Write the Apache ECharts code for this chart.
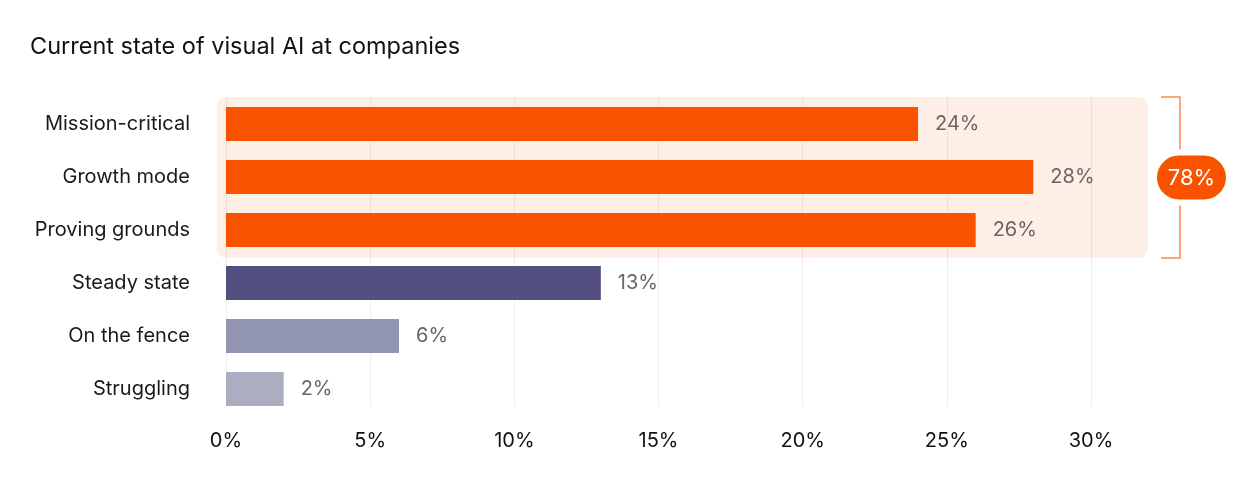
<!DOCTYPE html>
<html>
<head>
<meta charset="utf-8">
<script src="https://cdn.jsdelivr.net/npm/echarts@6/dist/echarts.min.js"></script>
<style>
  html, body { margin: 0; padding: 0; background: #fff; }
  #chart { width: 1256px; height: 483px; }
</style>
</head>
<body>
<div id="chart"></div>
<script>
// chart data
const categories = ['Mission-critical', 'Growth mode', 'Proving grounds', 'Steady state', 'On the fence', 'Struggling']
const shares = [24, 28, 26, 13, 6, 2]
const barColors = ['#f95300', '#f95300', '#f95300', '#534f81', '#9295b2', '#aaaec0']
const xTicks = [0, 5, 10, 15, 20, 25, 30]
const highlightCount = 3 // first three bars are grouped

const fontFamily = 'Inter, "Noto Sans", sans-serif'
const xMin = xTicks[0]
const xMax = xTicks[xTicks.length - 1]
const xStep = xTicks[1] - xTicks[0]

const chart = echarts.init(document.getElementById('chart'))

chart.setOption({
  animation: false,
  title: {
    text: 'Current state of visual AI at companies',
    left: 25,
    top: 30,
    textStyle: { fontFamily, fontSize: 23.5, fontWeight: 'normal', color: '#111' }
  },
  grid: [
    { left: 226, right: 165, top: 97.5, height: 318 },
    // second grid only carries the shorter split lines
    { left: 226, right: 165, top: 97, height: 310 }
  ],
  xAxis: [
    {
      gridIndex: 0,
      type: 'value',
      min: xMin,
      max: xMax,
      interval: xStep,
      axisLine: { show: false },
      axisTick: { show: false },
      splitLine: { show: false },
      axisLabel: {
        formatter: '{value}%',
        margin: 15,
        fontFamily,
        fontSize: 20,
        color: '#111'
      }
    },
    {
      gridIndex: 1,
      type: 'value',
      min: xMin,
      max: xMax,
      interval: xStep,
      axisLine: { show: false },
      axisTick: { show: false },
      axisLabel: { show: false },
      splitLine: { show: true, lineStyle: { color: 'rgba(90,40,20,0.08)', width: 1 } }
    }
  ],
  yAxis: [
    {
      gridIndex: 0,
      type: 'category',
      inverse: true,
      data: categories,
      axisLine: { show: false },
      axisTick: { show: false },
      axisLabel: {
        margin: 36,
        fontFamily,
        fontSize: 20,
        color: '#1a1a1a'
      }
    },
    { gridIndex: 1, type: 'value', show: false }
  ],
  series: [{
    type: 'bar',
    xAxisIndex: 0,
    yAxisIndex: 0,
    barWidth: 34,
    data: shares.map((v, i) => ({ value: v, itemStyle: { color: barColors[i] } })),
    label: {
      show: true,
      position: 'right',
      distance: 17,
      formatter: '{c}%',
      fontFamily,
      fontSize: 20,
      color: '#6b6462'
    }
  }]
})

// highlight box, bracket and total pill placed from the axis scales
const x0 = chart.convertToPixel({ xAxisIndex: 0 }, xMin)
const xEnd = chart.convertToPixel({ xAxisIndex: 0 }, xMax)
const yFirst = chart.convertToPixel({ yAxisIndex: 0 }, categories[0])
const yLast = chart.convertToPixel({ yAxisIndex: 0 }, categories[highlightCount - 1])
const boxTop = yFirst - 27
const boxBottom = yLast + 28
const boxLeft = x0 - 9
const boxRight = xEnd + 57
const bracketX = boxRight + 32
const midY = (boxTop + boxBottom) / 2
const pillX = bracketX + 11.5
const total = shares.slice(0, highlightCount).reduce((a, b) => a + b, 0)
const bracketColor = '#f98a55'

chart.setOption({
  graphic: [
    {
      type: 'rect',
      z: -10,
      silent: true,
      shape: { x: boxLeft, y: boxTop, width: boxRight - boxLeft, height: boxBottom - boxTop, r: 9 },
      style: { fill: '#fdeee6' }
    },
    {
      type: 'polyline',
      silent: true,
      shape: { points: [[bracketX - 19, boxTop], [bracketX, boxTop], [bracketX, boxBottom], [bracketX - 19, boxBottom]] },
      style: { stroke: bracketColor, lineWidth: 1.5, fill: null }
    },
    {
      type: 'rect',
      silent: true,
      z: 10,
      shape: { x: pillX - 37.5, y: midY - 25, width: 75, height: 50, r: 25 },
      style: { fill: '#f95300', stroke: '#fff', lineWidth: 6 }
    },
    {
      type: 'text',
      silent: true,
      z: 11,
      x: pillX,
      y: midY + 1,
      style: {
        text: total + '%',
        fill: '#fff',
        font: '22px ' + fontFamily,
        align: 'center',
        verticalAlign: 'middle'
      }
    }
  ]
})
</script>
</body>
</html>
